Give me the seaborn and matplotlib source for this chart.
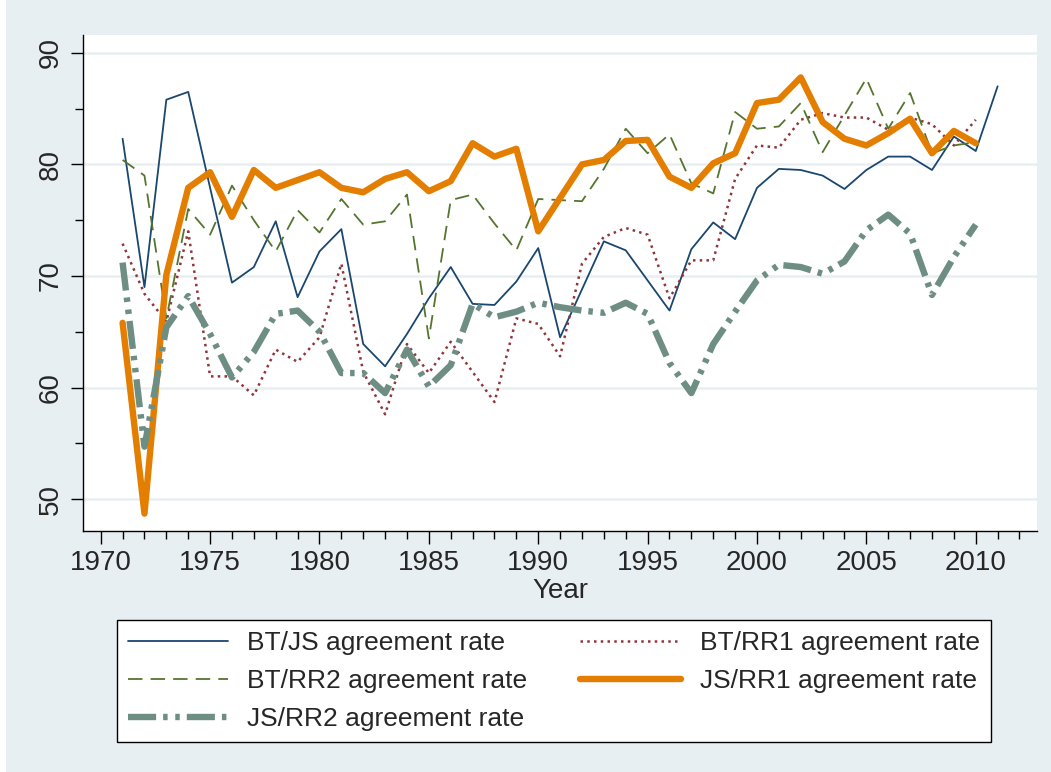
import numpy as np
import pandas as pd
import seaborn as sns
import matplotlib
matplotlib.use("Agg")
from matplotlib import pyplot as plt
from matplotlib.lines import Line2D
from matplotlib.patches import Rectangle

# years of each series
years_js = list(range(1971, 2012))
years = list(range(1971, 2011))

bt_js = [82.3, 69.0, 85.8, 86.5, 77.9, 69.4, 70.8, 74.9, 68.1, 72.2,
         74.2, 63.9, 61.9, 64.8, 68.0, 70.8, 67.5, 67.4, 69.5, 72.5,
         64.5, 68.8, 73.1, 72.3, 69.6, 66.9, 72.4, 74.8, 73.3, 77.9,
         79.6, 79.5, 79.0, 77.8, 79.5, 80.7, 80.7, 79.5, 82.5, 81.2,
         87.0]
bt_rr1 = [72.9, 68.4, 65.9, 74.0, 61.0, 61.0, 59.3, 63.4, 62.3, 64.5,
          71.1, 61.4, 57.6, 63.9, 61.3, 64.1, 61.4, 58.7, 66.2, 65.7,
          62.8, 71.1, 73.5, 74.3, 73.7, 68.0, 71.4, 71.4, 78.7, 81.7,
          81.5, 84.0, 84.6, 84.2, 84.2, 83.1, 84.2, 83.6, 81.7, 84.0]
bt_rr2 = [80.4, 79.0, 66.2, 76.0, 73.7, 78.1, 75.0, 72.2, 75.9, 73.9,
          76.9, 74.6, 74.9, 77.3, 64.4, 76.8, 77.3, 74.7, 72.3, 76.9,
          76.8, 76.7, 79.6, 83.2, 81.0, 82.7, 78.3, 77.4, 84.7, 83.2,
          83.4, 85.5, 81.1, 84.4, 87.7, 83.2, 86.4, 81.0, 81.7, 82.0]
js_rr1 = [65.8, 48.7, 70.1, 77.9, 79.3, 75.3, 79.5, 77.9, 78.6, 79.3,
          77.9, 77.5, 78.7, 79.3, 77.6, 78.5, 81.9, 80.7, 81.4, 74.0,
          77.0, 80.0, 80.4, 82.1, 82.2, 78.9, 77.9, 80.1, 81.0, 85.5,
          85.8, 87.8, 83.8, 82.3, 81.7, 82.8, 84.1, 81.0, 83.0, 81.9]
js_rr2 = [71.2, 54.7, 65.4, 68.2, 64.8, 60.9, 63.2, 66.6, 66.9, 65.0,
          61.3, 61.3, 59.5, 63.4, 60.1, 62.0, 67.5, 66.3, 66.8, 67.6,
          67.2, 66.9, 66.7, 67.6, 66.6, 62.2, 59.5, 63.9, 66.8, 69.6,
          71.0, 70.8, 70.2, 71.3, 74.1, 75.5, 73.8, 68.3, 71.7, 74.6]

labels = ["BT/JS agreement rate", "BT/RR1 agreement rate", "BT/RR2 agreement rate",
          "JS/RR1 agreement rate", "JS/RR2 agreement rate"]
xticks = [1970, 1975, 1980, 1985, 1990, 1995, 2000, 2005, 2010]
yticks = [50, 60, 70, 80, 90]

bg = "#e8eff2"
sns.set_theme(style="white")
plt.rcParams['font.family'] = ['Liberation Sans', 'DejaVu Sans']

fig = plt.figure(figsize=(10.51, 7.72), dpi=100, facecolor=bg)
fig.patches.append(Rectangle((0, 0), 6 / 1051, 1, transform=fig.transFigure,
                             facecolor="white", edgecolor="none", zorder=-1))
ax = fig.add_axes([83 / 1051, 1 - 531 / 772, (1037 - 83) / 1051, (531 - 35) / 772])
ax.set_facecolor("white")

styles = [
    dict(color="#1a476f", lw=1.3, ls="-"),
    dict(color="#90353b", lw=1.8, ls=(0, (1.0, 1.7))),
    dict(color="#55752f", lw=1.3, ls=(0, (8, 4.5))),
    dict(color="#e37e00", lw=4.6, ls="-"),
    dict(color="#6e8e84", lw=4.6, ls=(0, (4.4, 1.1, 0.7, 1.2, 0.7, 1.1))),
]
series = [(years_js, bt_js), (years, bt_rr1), (years, bt_rr2), (years, js_rr1), (years, js_rr2)]

handles = []
for (xs, ys), lab, st in zip(series, labels, styles):
    df = pd.DataFrame({"year": xs, "rate": ys})
    sns.lineplot(data=df, x="year", y="rate", ax=ax, color=st["color"],
                 linewidth=st["lw"], linestyle=st["ls"])
    ln = ax.get_lines()[-1]
    if st["ls"] == "-":
        ln.set_solid_capstyle("round")
    handles.append(Line2D([], [], color=st["color"], lw=st["lw"], ls=st["ls"]))

ax.set_xlim(1969.19, 2012.8)
ax.set_ylim(47.14, 91.6)
ax.set_xticks(xticks)
ax.set_xticks(range(1971, 2013), minor=True)
ax.set_yticks(yticks)
ax.set_yticks([55, 65, 75, 85], minor=True)
ax.set_yticklabels([str(v) for v in yticks], rotation=90, va="center")
ax.tick_params(axis="both", which="major", length=9, width=1, color="black",
               labelsize=20, direction="out", pad=5)
ax.tick_params(axis="both", which="minor", length=6, width=1, color="black",
               direction="out")
ax.tick_params(axis="x", bottom=True, which="both")
ax.tick_params(axis="y", left=True, which="both")
ax.set_axisbelow(True)
ax.yaxis.grid(True, color=bg, lw=1.8)
ax.xaxis.grid(False)
for side in ["top", "right"]:
    ax.spines[side].set_visible(False)
for side in ["left", "bottom"]:
    ax.spines[side].set_color("black")
    ax.spines[side].set_linewidth(1.0)
ax.set_xlabel("Year", fontsize=20, labelpad=1)
ax.set_ylabel("")

order = [0, 2, 4, 1, 3]
leg = fig.legend([handles[i] for i in order], [labels[i] for i in order],
                 ncol=2, loc="upper left", bbox_to_anchor=(117 / 1051, 1 - 620 / 772),
                 frameon=True, fancybox=False, edgecolor="black", facecolor="white",
                 fontsize=19, handlelength=3.8, handletextpad=0.72, columnspacing=2.0,
                 labelspacing=0.53, borderpad=0.42, borderaxespad=0)
leg.get_frame().set_linewidth(1.0)
leg.get_frame().set_alpha(1)

plt.savefig("out.png", dpi=100, facecolor=bg)
